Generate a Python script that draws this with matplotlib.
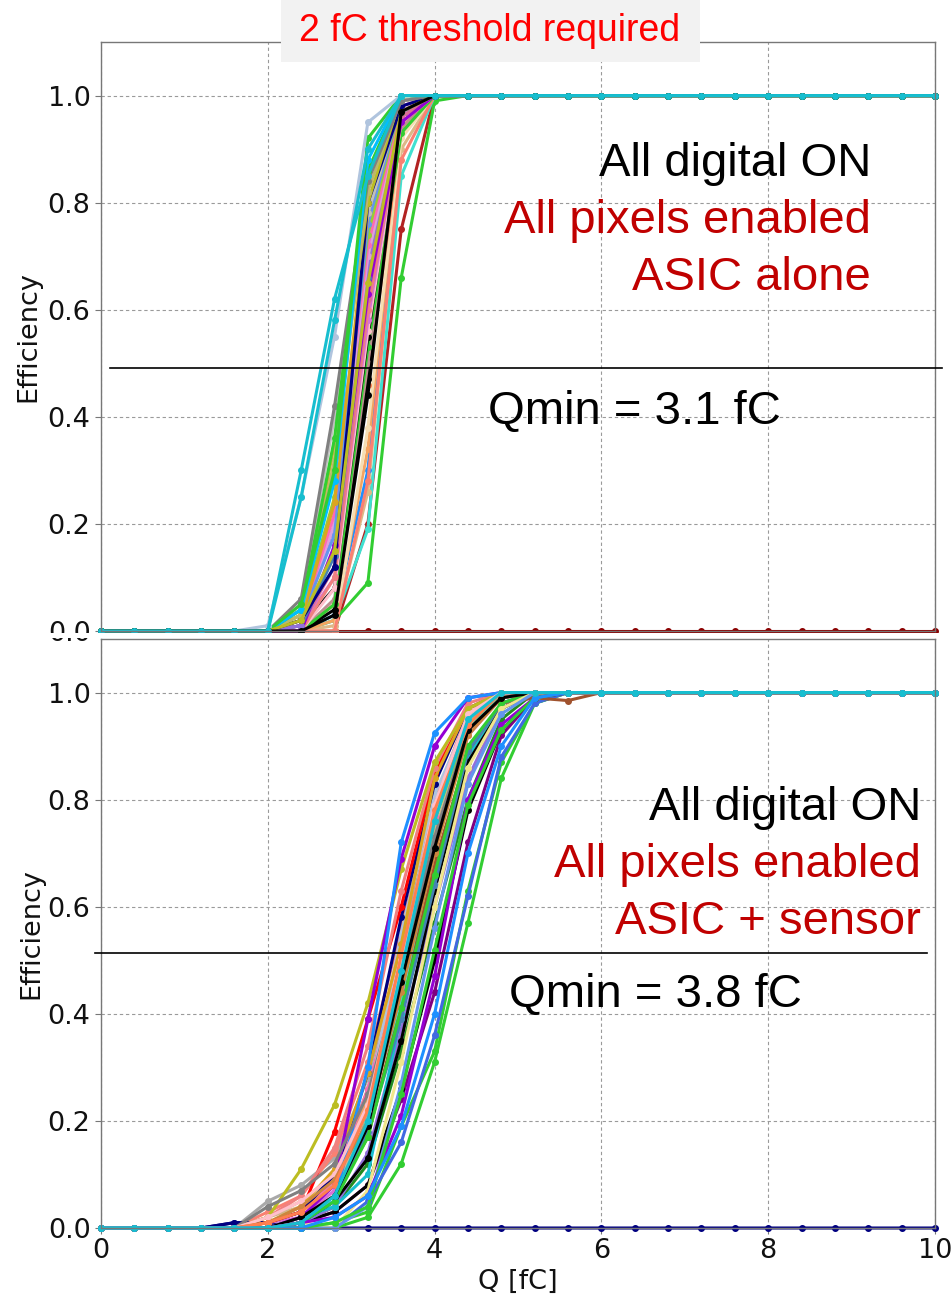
import numpy as np
import matplotlib
matplotlib.use("Agg")
import matplotlib.pyplot as plt
from matplotlib.lines import Line2D
from matplotlib.patches import Rectangle

W, H = 953, 1295

# Charge points (fC)
Q = [0.0, 0.4, 0.8, 1.2, 1.6, 2.0, 2.4, 2.8, 3.2, 3.6, 4.0, 4.4, 4.8, 5.2,
     5.6, 6.0, 6.4, 6.8, 7.2, 7.6, 8.0, 8.4, 8.8, 9.2, 9.6, 10.0]

# ---- Top panel (ASIC alone) : efficiency at Q = 2.0 ... 4.0 (0 below, 1 above)
top_dead_color = "darkred"
top_dead = [0.0] * 26
top_colors = ["firebrick", "limegreen", "turquoise", "burlywood", "dodgerblue",
              "sandybrown", "wheat", "salmon", "coral", "black", "rosybrown",
              "limegreen", "black", "pink", "orchid", "lightcoral",
              "palevioletred", "darkviolet", "steelblue", "mediumpurple",
              "darkgray", "plum", "hotpink", "yellowgreen", "cornflowerblue",
              "goldenrod", "silver", "navy", "#bcbd22", "darkkhaki", "gray",
              "limegreen", "deepskyblue", "limegreen", "lightsteelblue",
              "#17becf", "#bcbd22", "black", "#17becf"]
top_rise = [
    [0, 0.00, 0.00, 0.20, 0.75, 1.00],
    [0, 0.00, 0.02, 0.09, 0.66, 0.99],
    [0, 0.00, 0.02, 0.19, 0.85, 1.00],
    [0, 0.00, 0.01, 0.26, 0.90, 1.00],
    [0, 0.00, 0.03, 0.30, 0.96, 1.00],
    [0, 0.00, 0.02, 0.34, 0.93, 1.00],
    [0, 0.00, 0.00, 0.38, 0.92, 1.00],
    [0, 0.00, 0.00, 0.28, 0.88, 1.00],
    [0, 0.00, 0.05, 0.46, 0.94, 1.00],
    [0, 0.00, 0.04, 0.47, 0.96, 1.00],
    [0, 0.00, 0.06, 0.50, 0.94, 1.00],
    [0, 0.00, 0.05, 0.53, 0.93, 1.00],
    [0, 0.01, 0.08, 0.55, 0.97, 1.00],
    [0, 0.00, 0.08, 0.56, 0.95, 1.00],
    [0, 0.01, 0.10, 0.58, 0.96, 1.00],
    [0, 0.00, 0.10, 0.60, 0.95, 1.00],
    [0, 0.01, 0.12, 0.62, 0.96, 1.00],
    [0, 0.00, 0.16, 0.63, 0.95, 1.00],
    [0, 0.01, 0.14, 0.66, 0.97, 1.00],
    [0, 0.01, 0.20, 0.68, 0.97, 1.00],
    [0, 0.04, 0.30, 0.70, 0.97, 1.00],
    [0, 0.02, 0.20, 0.70, 0.98, 1.00],
    [0, 0.02, 0.22, 0.72, 0.98, 1.00],
    [0, 0.03, 0.25, 0.74, 0.99, 1.00],
    [0, 0.02, 0.18, 0.76, 0.99, 1.00],
    [0, 0.02, 0.24, 0.78, 0.99, 1.00],
    [0, 0.05, 0.40, 0.78, 0.99, 1.00],
    [0, 0.02, 0.12, 0.80, 0.98, 1.00],
    [0, 0.03, 0.35, 0.80, 1.00, 1.00],
    [0, 0.03, 0.32, 0.82, 1.00, 1.00],
    [0, 0.06, 0.42, 0.84, 0.99, 1.00],
    [0, 0.04, 0.36, 0.86, 1.00, 1.00],
    [0, 0.04, 0.28, 0.88, 1.00, 1.00],
    [0, 0.05, 0.30, 0.92, 1.00, 1.00],
    [0.01, 0.25, 0.55, 0.95, 1.00, 1.00],
    [0, 0.25, 0.58, 0.90, 1.00, 1.00],
    [0, 0.02, 0.15, 0.65, 0.97, 1.00],
    [0, 0.00, 0.03, 0.44, 0.97, 1.00],
    [0, 0.30, 0.62, 0.85, 1.00, 1.00],
]

# ---- Bottom panel (ASIC + sensor) : efficiency at Q = 1.6 ... 5.6
bot_dead_color = "navy"
bot_dead = [0, 0, 0, 0, 0.01, 0.01] + [0.0] * 20
bot_colors = ["limegreen", "limegreen", "royalblue", "purple", "black",
              "forestgreen", "mediumpurple", "#17becf", "sienna", "sandybrown",
              "black", "steelblue", "turquoise", "orchid", "tan", "yellowgreen",
              "hotpink", "darkgray", "salmon", "lightsteelblue", "navy", "red",
              "goldenrod", "lightcoral", "#bcbd22", "darkviolet", "dodgerblue",
              "gray", "pink", "limegreen", "peru", "black", "khaki",
              "cornflowerblue", "darkviolet", "limegreen", "coral",
              "dodgerblue", "#17becf"]
bot_rise = [
    [0, 0.00, 0.00, 0.00, 0.02, 0.12, 0.31, 0.57, 0.84, 0.98, 1.00],
    [0, 0.00, 0.00, 0.01, 0.03, 0.19, 0.33, 0.63, 0.87, 0.98, 1.00],
    [0, 0.00, 0.00, 0.00, 0.05, 0.16, 0.36, 0.62, 0.88, 0.98, 1.00],
    [0, 0.00, 0.01, 0.03, 0.08, 0.24, 0.44, 0.72, 0.92, 0.99, 1.00],
    [0, 0.00, 0.01, 0.03, 0.08, 0.26, 0.50, 0.78, 0.93, 0.99, 1.00],
    [0, 0.00, 0.01, 0.04, 0.12, 0.33, 0.57, 0.80, 0.95, 1.00, 1.00],
    [0, 0.00, 0.01, 0.04, 0.14, 0.37, 0.60, 0.84, 0.97, 1.00, 1.00],
    [0, 0.00, 0.02, 0.04, 0.10, 0.40, 0.66, 0.88, 0.98, 1.00, 1.00],
    [0, 0.00, 0.02, 0.06, 0.17, 0.42, 0.68, 0.89, 0.98, 0.99, 0.985],
    [0, 0.02, 0.05, 0.10, 0.24, 0.45, 0.70, 0.92, 0.99, 1.00, 1.00],
    [0, 0.00, 0.01, 0.05, 0.13, 0.35, 0.63, 0.87, 0.97, 1.00, 1.00],
    [0, 0.00, 0.02, 0.05, 0.18, 0.39, 0.64, 0.89, 0.98, 1.00, 1.00],
    [0, 0.00, 0.02, 0.05, 0.21, 0.43, 0.71, 0.93, 1.00, 1.00, 1.00],
    [0, 0.01, 0.02, 0.07, 0.20, 0.45, 0.73, 0.92, 0.99, 1.00, 1.00],
    [0, 0.02, 0.04, 0.08, 0.19, 0.47, 0.74, 0.93, 0.99, 1.00, 1.00],
    [0, 0.01, 0.03, 0.09, 0.26, 0.48, 0.76, 0.94, 1.00, 1.00, 1.00],
    [0, 0.01, 0.03, 0.09, 0.26, 0.50, 0.77, 0.95, 1.00, 1.00, 1.00],
    [0, 0.05, 0.08, 0.13, 0.28, 0.53, 0.78, 0.95, 1.00, 1.00, 1.00],
    [0, 0.03, 0.06, 0.14, 0.31, 0.56, 0.80, 0.96, 1.00, 1.00, 1.00],
    [0, 0.01, 0.03, 0.08, 0.23, 0.55, 0.81, 0.95, 1.00, 1.00, 1.00],
    [0.01, 0.01, 0.03, 0.10, 0.29, 0.58, 0.83, 0.97, 1.00, 1.00, 1.00],
    [0, 0.01, 0.03, 0.18, 0.39, 0.60, 0.85, 0.97, 1.00, 1.00, 1.00],
    [0, 0.01, 0.04, 0.11, 0.29, 0.53, 0.84, 0.97, 1.00, 1.00, 1.00],
    [0, 0.02, 0.06, 0.15, 0.34, 0.63, 0.86, 0.98, 1.00, 1.00, 1.00],
    [0, 0.02, 0.11, 0.23, 0.42, 0.67, 0.87, 0.97, 1.00, 1.00, 1.00],
    [0, 0.00, 0.02, 0.08, 0.39, 0.69, 0.90, 0.99, 1.00, 1.00, 1.00],
    [0, 0.00, 0.01, 0.05, 0.30, 0.72, 0.925, 0.99, 1.00, 1.00, 1.00],
    [0, 0.04, 0.07, 0.12, 0.25, 0.48, 0.73, 0.93, 0.99, 1.00, 1.00],
    [0, 0.02, 0.05, 0.10, 0.23, 0.50, 0.79, 0.96, 1.00, 1.00, 1.00],
    [0, 0.00, 0.01, 0.05, 0.17, 0.41, 0.66, 0.90, 0.98, 1.00, 1.00],
    [0, 0.01, 0.04, 0.09, 0.20, 0.44, 0.70, 0.92, 0.99, 1.00, 1.00],
    [0, 0.00, 0.02, 0.06, 0.19, 0.46, 0.71, 0.93, 0.99, 1.00, 1.00],
    [0, 0.00, 0.01, 0.00, 0.07, 0.31, 0.60, 0.86, 0.97, 1.00, 1.00],
    [0, 0.00, 0.00, 0.00, 0.04, 0.27, 0.56, 0.83, 0.96, 1.00, 1.00],
    [0, 0.00, 0.01, 0.02, 0.06, 0.21, 0.47, 0.80, 0.94, 0.99, 1.00],
    [0, 0.00, 0.00, 0.01, 0.04, 0.25, 0.52, 0.79, 0.93, 0.99, 1.00],
    [0, 0.01, 0.03, 0.08, 0.22, 0.51, 0.78, 0.94, 1.00, 1.00, 1.00],
    [0, 0.00, 0.00, 0.02, 0.06, 0.19, 0.40, 0.70, 0.90, 0.99, 1.00],
    [0, 0.00, 0.01, 0.06, 0.20, 0.48, 0.76, 0.95, 1.00, 1.00, 1.00],
]

title_text = "2 fC threshold required"
top_notes = ["All digital ON", "All pixels enabled", "ASIC alone"]
bot_notes = ["All digital ON", "All pixels enabled", "ASIC + sensor"]
top_qmin = "Qmin = 3.1 fC"
bot_qmin = "Qmin = 3.8 fC"
xticks = [0, 2, 4, 6, 8, 10]
yticks = [0.0, 0.2, 0.4, 0.6, 0.8, 1.0]

# ---------------------------------------------------------------------------
fig = plt.figure(figsize=(W / 100, H / 100), dpi=100)
fig.patch.set_facecolor("white")


def fx(px):
    return px / W


def fy(py):
    return 1 - py / H


ax_top = fig.add_axes([fx(101), fy(631), fx(935) - fx(101), fy(42) - fy(631)])
ax_bot = fig.add_axes([fx(101), fy(1228), fx(935) - fx(101), fy(639) - fy(1228)])
ax_top.set_zorder(0)
ax_bot.set_zorder(2)


def style(ax):
    ax.set_xlim(0, 10)
    ax.set_ylim(0, 1.1)
    ax.set_xticks(xticks)
    ax.set_yticks(yticks)
    ax.grid(True, color="#9a9a9a", linestyle=(0, (3, 2.5)), linewidth=0.8)
    ax.set_axisbelow(True)
    for s in ax.spines.values():
        s.set_color("#777777")
        s.set_linewidth(1.0)
    ax.tick_params(labelsize=19.5, colors="#111111", length=4, width=0.8,
                   color="#777777")
    ax.set_ylabel("Efficiency", fontsize=19.5, color="#111111")


def draw(ax, dead, dead_color, rise_list, colors, n_before):
    ax.plot(Q, dead, color=dead_color, lw=2.2, marker="o", ms=4,
            clip_on=False, zorder=2)
    for vals, c in zip(rise_list, colors):
        n_after = len(Q) - n_before - len(vals)
        y = [0.0] * n_before + list(vals) + [1.0] * n_after
        ax.plot(Q, y, color=c, lw=2.2, marker="o", ms=4, clip_on=False,
                zorder=2)


style(ax_top)
style(ax_bot)
draw(ax_top, top_dead, top_dead_color, top_rise, top_colors, 5)
draw(ax_bot, bot_dead, bot_dead_color, bot_rise, bot_colors, 4)

ax_top.tick_params(axis="x", labelbottom=False)
ax_bot.set_xlabel("Q [fC]", fontsize=19.5, color="#111111", labelpad=3)
ax_top.yaxis.set_label_coords(-0.071, 0.5)
ax_bot.yaxis.set_label_coords(-0.068, 0.5)

# white mask cutting the top panel (as in the stacked screenshot)
fig.add_artist(Rectangle((0, fy(638)), 1, fy(633) - fy(638),
                         transform=fig.transFigure, facecolor="white",
                         edgecolor="none", zorder=1))

# title box
fig.add_artist(Rectangle((fx(281), fy(62)), fx(700) - fx(281), fy(0) - fy(62),
                         transform=fig.transFigure, facecolor="#f2f2f2",
                         edgecolor="none", zorder=5))
fig.text(fx(490), fy(31), title_text, color="#ff0000", fontsize=27,
         family="Liberation Sans", ha="center", va="center", zorder=6)

# annotations
note_colors = ["black", "#c00000", "#c00000"]
for txt, c, yb in zip(top_notes, note_colors, [176, 233, 290]):
    fig.text(fx(871), fy(yb), txt, color=c, fontsize=34,
             family="Liberation Sans", ha="right", va="baseline", zorder=6)
for txt, c, yb in zip(bot_notes, note_colors, [820, 877, 934]):
    fig.text(fx(921), fy(yb), txt, color=c, fontsize=34,
             family="Liberation Sans", ha="right", va="baseline", zorder=6)

fig.text(fx(634), fy(424), top_qmin, color="black", fontsize=34,
         family="Liberation Sans", ha="center", va="baseline", zorder=6)
fig.text(fx(655), fy(1007), bot_qmin, color="black", fontsize=34,
         family="Liberation Sans", ha="center", va="baseline", zorder=6)

fig.add_artist(Line2D([fx(110), fx(942)], [fy(368), fy(368)],
                      transform=fig.transFigure, color="black", lw=1.2,
                      zorder=6))
fig.add_artist(Line2D([fx(95), fx(927)], [fy(953), fy(953)],
                      transform=fig.transFigure, color="black", lw=1.2,
                      zorder=6))

fig.savefig("out.png", dpi=100)
